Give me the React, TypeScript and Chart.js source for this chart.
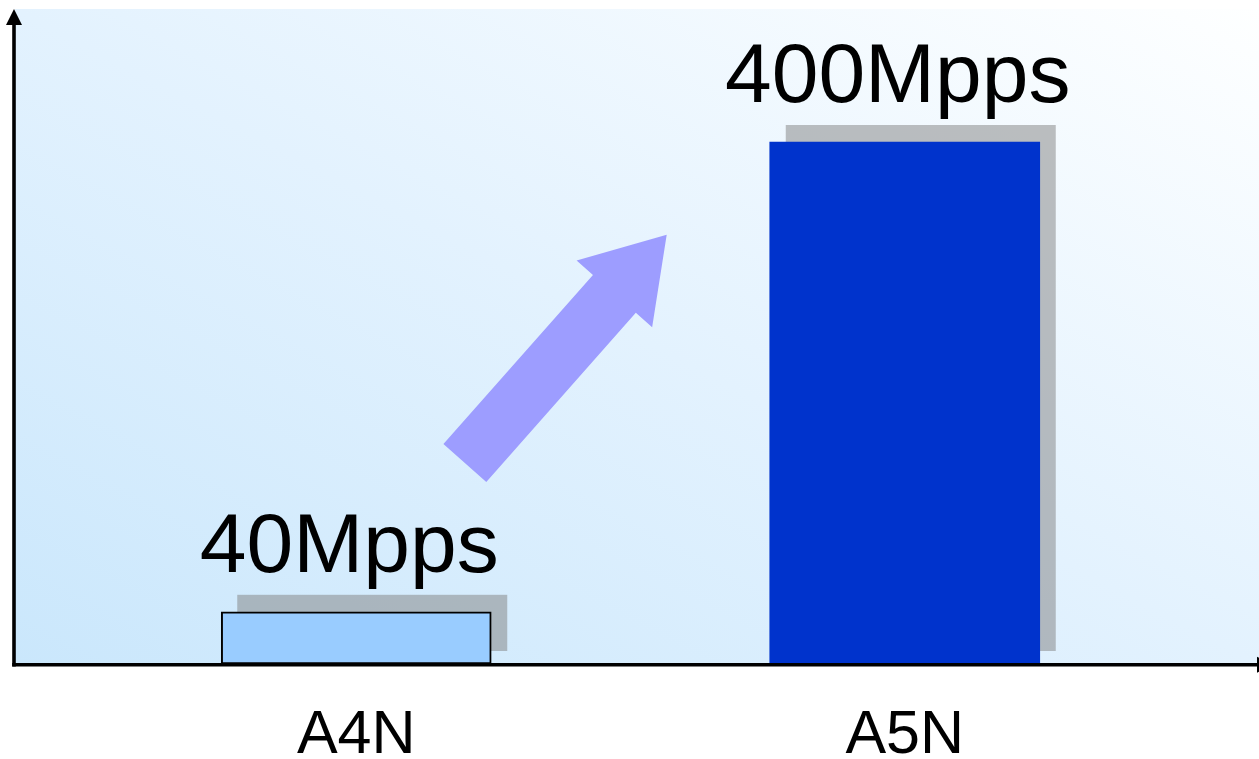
import React, { useEffect, useRef } from "react";
import { Chart, registerables } from "chart.js";

Chart.register(...registerables);

// Packet throughput per generation
const categories = ["A4N", "A5N"];
const throughput = [40, 400];
const unit = "Mpps";
const barColors = ["#99ccff", "#0033cc"];
const barBorderWidths = [2, 0];

// Growth arrow, placed in scale space (category index, value)
const arrowFrom = { x: 0.198, y: 154 };
const arrowTo = { x: 0.566, y: 329 };

const WIDTH = 1259;
const HEIGHT = 759;
const FONT = "'Liberation Sans', Arial, Helvetica, sans-serif";

const slideDecor = {
  id: "slideDecor",
  beforeDraw(chart: any) {
    const { ctx, chartArea } = chart;
    const x0 = chartArea.left - 67;
    const y0 = 9;
    const x1 = chart.width;
    const y1 = chartArea.bottom;
    ctx.save();
    // diagonal gradient in the box's own unit square
    ctx.translate(x0, y0);
    ctx.scale(x1 - x0, y1 - y0);
    const g = ctx.createLinearGradient(0, 1, 1, 0);
    g.addColorStop(0, "#cae7fc");
    g.addColorStop(0.5, "#e3f2fe");
    g.addColorStop(1, "#feffff");
    ctx.fillStyle = g;
    ctx.fillRect(0, 0, 1, 1);
    ctx.restore();
  },
  beforeDatasetsDraw(chart: any) {
    const { ctx } = chart;
    const xs = chart.scales.x;
    const ys = chart.scales.y;

    // growth arrow
    const tx = xs.getPixelForValue(arrowFrom.x);
    const ty = ys.getPixelForValue(arrowFrom.y);
    const hx = xs.getPixelForValue(arrowTo.x);
    const hy = ys.getPixelForValue(arrowTo.y);
    const len = Math.hypot(hx - tx, hy - ty);
    const ux = (hx - tx) / len;
    const uy = (hy - ty) / len;
    const nx = -uy;
    const ny = ux;
    const shaft = 28.6;
    const head = 50.4;
    const headLen = 79;
    const bx = hx - ux * headLen;
    const by = hy - uy * headLen;
    ctx.save();
    ctx.fillStyle = "#9d9dff";
    ctx.beginPath();
    ctx.moveTo(tx + nx * shaft, ty + ny * shaft);
    ctx.lineTo(bx + nx * shaft, by + ny * shaft);
    ctx.lineTo(bx + nx * head, by + ny * head);
    ctx.lineTo(hx, hy);
    ctx.lineTo(bx - nx * head, by - ny * head);
    ctx.lineTo(bx - nx * shaft, by - ny * shaft);
    ctx.lineTo(tx - nx * shaft, ty - ny * shaft);
    ctx.closePath();
    ctx.fill();

    // drop shadows behind the bars
    const meta = chart.getDatasetMeta(0);
    ctx.fillStyle = "rgba(128,128,128,0.5)";
    meta.data.forEach((bar: any) => {
      const { x, y, base, width } = bar.getProps(["x", "y", "base", "width"], true);
      const top = y - 17;
      const bottom = base - 13;
      ctx.fillRect(x - width / 2 + 16, top, width, bottom - top);
    });
    ctx.restore();
  },
  afterDatasetsDraw(chart: any) {
    const { ctx, chartArea } = chart;
    const axisX = chartArea.left - 68;
    const axisY = chartArea.bottom + 0.8;
    ctx.save();
    ctx.fillStyle = "#000";
    ctx.strokeStyle = "#000";
    ctx.lineWidth = 3.6;

    // vertical axis with arrowhead
    ctx.beginPath();
    ctx.moveTo(axisX, axisY + 1.8);
    ctx.lineTo(axisX, 24);
    ctx.stroke();
    ctx.beginPath();
    ctx.moveTo(axisX, 9);
    ctx.lineTo(axisX - 8, 25);
    ctx.lineTo(axisX + 8, 25);
    ctx.closePath();
    ctx.fill();

    // horizontal axis with arrowhead running off the right edge
    ctx.beginPath();
    ctx.moveTo(axisX - 1.8, axisY);
    ctx.lineTo(chart.width - 2, axisY);
    ctx.stroke();
    ctx.beginPath();
    ctx.moveTo(chart.width - 2, axisY - 8);
    ctx.lineTo(chart.width + 14, axisY);
    ctx.lineTo(chart.width - 2, axisY + 8);
    ctx.closePath();
    ctx.fill();

    // value labels and category names
    const meta = chart.getDatasetMeta(0);
    ctx.textAlign = "center";
    ctx.textBaseline = "alphabetic";
    meta.data.forEach((bar: any, i: number) => {
      const { x, y } = bar.getProps(["x", "y"], true);
      ctx.font = `84px ${FONT}`;
      ctx.fillText(`${throughput[i]}${unit}`, x - 7, y - 40);
      ctx.font = `61px ${FONT}`;
      ctx.fillText(categories[i], x, 753);
    });
    ctx.restore();
  },
};

export default function App() {
  const canvasRef = useRef<HTMLCanvasElement | null>(null);

  useEffect(() => {
    const canvas = canvasRef.current;
    if (!canvas) return;
    const chart = new Chart(canvas, {
      type: "bar",
      data: {
        labels: categories,
        datasets: [
          {
            data: throughput,
            backgroundColor: barColors,
            borderColor: "#000",
            borderWidth: barBorderWidths,
            borderSkipped: false,
            barThickness: 270,
          },
        ],
      },
      options: {
        responsive: false,
        animation: false,
        devicePixelRatio: 1,
        layout: { padding: { left: 82, right: 80, top: 11.5, bottom: 95 } },
        scales: {
          x: { display: false },
          y: { display: false, min: 0, max: 500 },
        },
        plugins: {
          legend: { display: false },
          tooltip: { enabled: false },
        },
      },
      plugins: [slideDecor],
    });
    return () => chart.destroy();
  }, []);

  return (
    <div
      style={{
        position: "fixed",
        left: 0,
        top: 0,
        width: WIDTH,
        height: HEIGHT,
        background: "#ffffff",
      }}
    >
      <canvas
        ref={canvasRef}
        width={WIDTH}
        height={HEIGHT}
        style={{ display: "block", width: WIDTH, height: HEIGHT }}
      />
    </div>
  );
}
